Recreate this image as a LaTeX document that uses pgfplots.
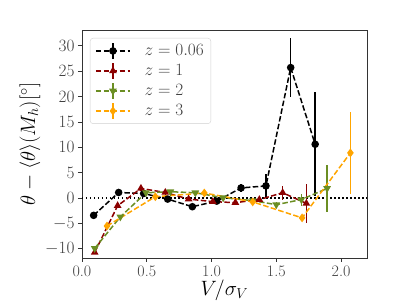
\documentclass[border=0pt]{standalone}
\usepackage{pgfplots}
\usepackage{pgfplotstable}
\pgfplotsset{compat=1.18}
\definecolor{cBlack}{RGB}{0,0,0}
\definecolor{cRed}{RGB}{139,0,0}
\definecolor{cGreen}{RGB}{107,142,35}
\definecolor{cOrange}{RGB}{255,165,0}

\pgfplotstableread{
x y e
0.090 -3.4 0.3
0.283 1.1 0.4
0.476 0.9 0.4
0.661 -0.2 0.4
0.852 -1.7 0.4
1.040 -0.6 0.5
1.228 2.0 0.8
1.420 2.4 2.3
1.611 25.7 5.8
1.800 10.6 10.2
}\tblA
\pgfplotstableread{
x y e
0.098 -10.7 0.4
0.275 -1.5 0.5
0.455 1.9 0.5
0.643 1.1 0.4
0.823 -0.2 0.4
1.010 -0.7 0.4
1.184 -0.9 0.4
1.369 -0.3 0.5
1.549 1.05 1.4
1.732 -1.05 3.9
}\tblB
\pgfplotstableread{
x y e
0.098 -9.9 0.4
0.296 -3.7 0.4
0.494 1.05 0.4
0.682 1.25 0.4
0.875 1.05 0.4
1.090 0.07 0.4
1.318 -0.5 0.4
1.500 -1.3 0.5
1.693 -0.3 1.2
1.892 1.9 4.7
}\tblC
\pgfplotstableread{
x y e
0.193 -5.5 0.5
0.566 0.27 0.4
0.944 1.0 0.5
1.318 -0.75 0.4
1.699 -3.9 0.6
2.072 8.9 8.0
}\tblD

\begin{document}
\begin{tikzpicture}
\begin{axis}[
  scale only axis,
  width=285pt, height=228pt,
  xmin=0, xmax=2.2,
  ymin=-11.8, ymax=33.1,
  xtick={0,0.5,1,1.5,2},
  xticklabels={0.0,0.5,1.0,1.5,2.0},
  ytick={-10,-5,0,5,10,15,20,25,30},
  tick align=outside,
  xtick pos=bottom, ytick pos=left,
  major tick length=4pt,
  tick style={line width=0.8pt, color=black!80},
  axis line style={line width=0.8pt, color=black!80},
  ticklabel style={font=\fontsize{16}{18}\selectfont, color=black!75},
  xlabel={$V/\sigma_V$},
  ylabel={$\theta-\langle\theta\rangle(M_h)[^\circ]$},
  xlabel style={font=\fontsize{21}{23}\selectfont, yshift=3pt},
  ylabel style={font=\fontsize{21}{23}\selectfont, yshift=-2pt},
  legend cell align=left,
  legend style={at={(axis description cs:0,1)}, anchor=north west,
    xshift=8pt, yshift=-8pt, rounded corners=3pt, draw=black!18,
    fill=white, font=\fontsize{16}{18}\selectfont, text=black!75,
    row sep=2.5pt, inner xsep=5pt, inner ysep=4pt,
    /tikz/every odd column/.append style={column sep=12pt}},
  legend image code/.code={
    \draw[#1, dash pattern=on 5.5pt off 2.4pt, mark repeat=2, mark phase=2]
      plot coordinates {(0pt,0pt) (17pt,0pt) (34pt,0pt)};
    \draw[#1, solid, mark=none] (17pt,-8pt) -- (17pt,8pt);
  },
  every axis plot/.append style={line width=1.5pt, dash pattern=on 5.5pt off 2.4pt},
  error bars/error bar style={line width=1.5pt, solid},
  error bars/error mark=none,
]
\addplot[cBlack, domain=0:2.2, samples=2, line width=1.5pt, dash pattern=on 1.5pt off 2.5pt, forget plot] {0};
\addplot[cBlack, mark=*, mark size=3pt, mark options={solid},
  error bars/.cd, y dir=both, y explicit]
  table[x=x, y=y, y error=e]{\tblA};
\addlegendentry{$z=0.06$}
\addplot[cRed, mark=triangle*, mark size=3pt, mark options={solid},
  error bars/.cd, y dir=both, y explicit]
  table[x=x, y=y, y error=e]{\tblB};
\addlegendentry{$z=1$}
\addplot[cGreen, mark=triangle*, mark size=3pt, mark options={solid, rotate=180},
  error bars/.cd, y dir=both, y explicit]
  table[x=x, y=y, y error=e]{\tblC};
\addlegendentry{$z=2$}
\addplot[cOrange, mark=diamond*, mark size=3.2pt, mark options={solid},
  error bars/.cd, y dir=both, y explicit]
  table[x=x, y=y, y error=e]{\tblD};
\addlegendentry{$z=3$}
\end{axis}
\pgfresetboundingbox
\path (current axis.south west) ++(-82pt,-47pt) rectangle ++(407pt,305pt);
\end{tikzpicture}
\end{document}
